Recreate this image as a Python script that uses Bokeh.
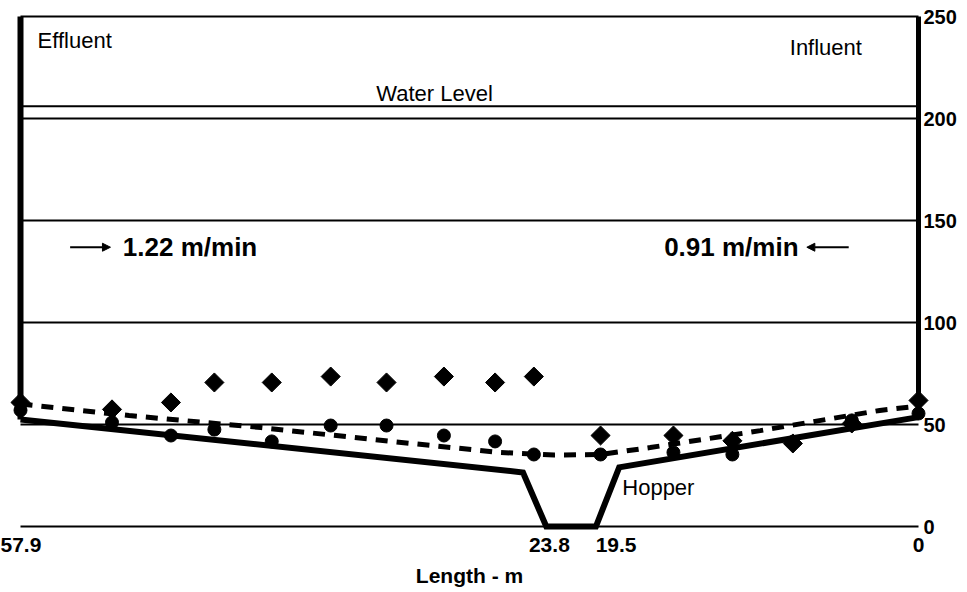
import math
from bokeh.plotting import figure
from bokeh.models import Range1d, FixedTicker, Label, Arrow, NormalHead
from bokeh.embed import file_html
from bokeh.resources import INLINE

# ---------------- data ----------------
x_ticks = [57.9, 23.8, 19.5, 0]
x_tick_labels = ["57.9", "23.8", "19.5", "0"]
y_ticks = [0, 50, 100, 150, 200, 250]
grid_levels = [0, 50, 100, 150, 200, 250]
water_level = 206

# tank floor with hopper (m, cm)
floor_x = [57.9, 25.5, 24.0, 20.8, 19.3, 0.0]
floor_y = [52.5, 26.5, 0.0, 0.0, 29.0, 53.6]
left_wall_x = [57.9, 57.9]
left_wall_y = [52.5, 250]
right_wall_x = [0.0, 0.0]
right_wall_y = [60, 250]

# sampling stations
station_x = [57.9, 52.0, 48.2, 45.4, 41.7, 37.9, 34.3, 30.6, 27.3, 24.8,
             20.5, 15.8, 12.0, 8.1, 4.3, 0.0]
circle_y = [57.0, 51.0, 44.6, 47.5, 41.7, 49.5, 49.5, 44.6, 41.7, 35.3,
            35.3, 36.3, 35.3, 41.5, 52.0, 55.4]
diamond_y = [60.8, 57.4, 60.8, 70.6, 70.6, 73.5, 70.6, 73.5, 70.6, 73.5,
             44.6, 44.6, 42.0, 40.7, 50.5, 61.8]

# dashed profile
dash_x = [57.9, 50.9, 42.4, 34.0, 27.0, 23.5, 20.5, 17.3, 10.2, 2.5, 0.0]
dash_y = [60.0, 54.4, 48.5, 41.7, 36.3, 35.0, 35.3, 38.7, 47.0, 56.9, 59.0]

FONT = "Liberation Sans"

p = figure(width=965, height=592,
           x_range=Range1d(x_ticks[0], x_ticks[-1]),
           y_range=Range1d(y_ticks[0], y_ticks[-1]),
           output_backend="svg", toolbar_location=None,
           y_axis_location="right",
           min_border_left=20, min_border_top=16,
           min_border_right=47, min_border_bottom=66)
p.outline_line_color = None
p.xgrid.visible = False
p.ygrid.visible = False

# axes
p.xaxis.ticker = FixedTicker(ticks=x_ticks)
p.xaxis.major_label_overrides = dict(zip(x_ticks, x_tick_labels))
p.xaxis.axis_label = "Length - m"
p.xaxis.axis_label_text_font = FONT
p.xaxis.axis_label_text_font_style = "bold"
p.xaxis.axis_label_text_font_size = "21px"
p.xaxis.axis_label_text_color = "black"
p.xaxis.axis_label_standoff = 9
p.xaxis.major_label_standoff = 11
p.yaxis.ticker = FixedTicker(ticks=y_ticks)
p.yaxis.major_label_standoff = 5
for ax in (p.xaxis, p.yaxis):
    ax.axis_line_color = None
    ax.major_tick_line_color = None
    ax.minor_tick_line_color = None
    ax.major_tick_out = 0
    ax.major_tick_in = 0
    ax.major_label_text_font = FONT
    ax.major_label_text_font_style = "bold"
    ax.major_label_text_color = "black"
p.xaxis.major_label_text_font_size = "21px"
p.yaxis.major_label_text_font_size = "20px"

# horizontal lines
n = len(grid_levels)
p.segment(x0=[x_ticks[0]] * n, y0=grid_levels, x1=[x_ticks[-1]] * n, y1=grid_levels,
          line_color="black", line_width=2, level="overlay")
p.segment(x0=[x_ticks[0]], y0=[water_level], x1=[x_ticks[-1]], y1=[water_level],
          line_color="black", line_width=2, level="overlay")

# walls and floor
p.line(left_wall_x, left_wall_y, line_color="black", line_width=6, level="overlay")
p.line(right_wall_x, right_wall_y, line_color="black", line_width=5, level="overlay")
p.line(floor_x, floor_y, line_color="black", line_width=6, line_join="miter", level="overlay")

# dashed profile
p.line(dash_x, dash_y, line_color="black", line_width=5, line_dash="12 9", level="overlay")

# markers
p.scatter(station_x, circle_y, marker="circle", size=13, color="black", level="overlay")
p.scatter(station_x, diamond_y, marker="square", size=13.5, angle=math.pi / 4,
          color="black", level="overlay")

# texts
def add_label(x, y, text, size, bold=False, align="left"):
    p.add_layout(Label(x=x, y=y, text=text, text_font=FONT, text_font_size=size,
                       text_font_style="bold" if bold else "normal",
                       text_align=align, text_baseline="middle",
                       text_color="black"))

add_label(56.8, 238.2, "Effluent", "22px")
add_label(8.3, 235.0, "Influent", "22px")
add_label(31.2, 212.4, "Water Level", "22px", align="center")
add_label(51.3, 136.9, "1.22 m/min", "26px", bold=True)
add_label(16.4, 136.9, "0.91 m/min", "26px", bold=True)
add_label(19.1, 18.9, "Hopper", "22px")

p.add_layout(Arrow(end=NormalHead(size=8, fill_color="black", line_color="black"),
                   x_start=54.7, y_start=136.9, x_end=52.1, y_end=136.9,
                   line_width=2, line_color="black"))
p.add_layout(Arrow(end=NormalHead(size=8, fill_color="black", line_color="black"),
                   x_start=4.5, y_start=136.9, x_end=7.2, y_end=136.9,
                   line_width=2, line_color="black"))

open("out.html", "w").write(file_html(p, INLINE))
